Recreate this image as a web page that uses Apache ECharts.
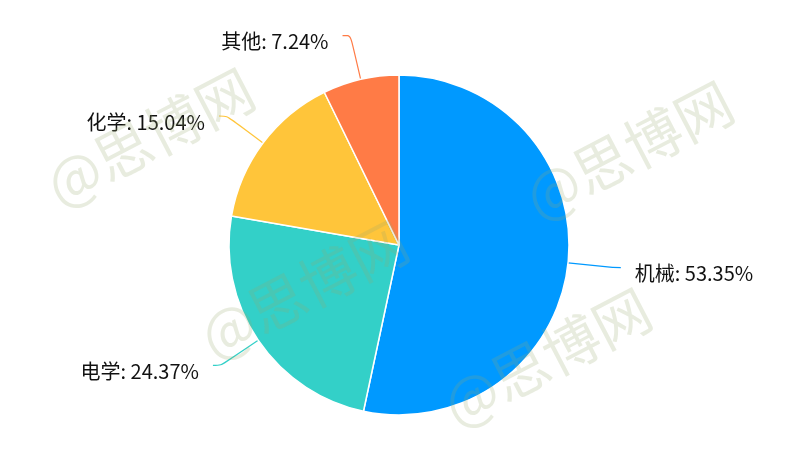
<!DOCTYPE html>
<html><head><meta charset="utf-8">
<script src="https://cdn.jsdelivr.net/npm/echarts@6/dist/echarts.min.js"></script>
<style>html,body{margin:0;padding:0;background:#fff}#c{width:809px;height:454px}</style>
</head><body><div id="c"></div>
<script>
const categories = ['机械', '电学', '化学', '其他'];
const values = [53.35, 24.37, 15.04, 7.24];
const colors = ['#0099FF', '#33D0C8', '#FFC53A', '#FF7B46'];
const watermarkText = '@思博网';
const watermarkSpots = [[150, 137], [629, 150], [304, 289], [547, 357]];

const chart = echarts.init(document.getElementById('c'), null, {renderer: 'canvas'});
const FONT = '"Noto Sans CJK SC", "Microsoft YaHei", sans-serif';
chart.setOption({
  backgroundColor: '#fff',
  animation: false,
  color: colors,
  graphic: watermarkSpots.map(p => ({
    type: 'text', x: p[0], y: p[1], rotation: 0.48, z: 100, silent: true,
    style: {text: watermarkText, fill: 'rgba(150,170,110,0.22)', font: '57px ' + FONT,
            align: 'center', verticalAlign: 'middle'}
  })),
  series: [{
    type: 'pie',
    center: [399, 245],
    radius: 170,
    startAngle: 90,
    data: categories.map((c, i) => ({name: c, value: values[i]})),
    itemStyle: {borderColor: '#fff', borderWidth: 1.5},
    label: {formatter: p => '{t|' + p.name + ': ' + p.value.toFixed(2) + '%}',
            distanceToLabelLine: 14,
            rich: {t: {color: '#111', fontSize: 20, fontFamily: FONT, padding: [12, 0, 0, 0]}}},
    labelLine: {length: 45, length2: 8, smooth: true, lineStyle: {width: 1.2}}
  }]
});
</script></body></html>
